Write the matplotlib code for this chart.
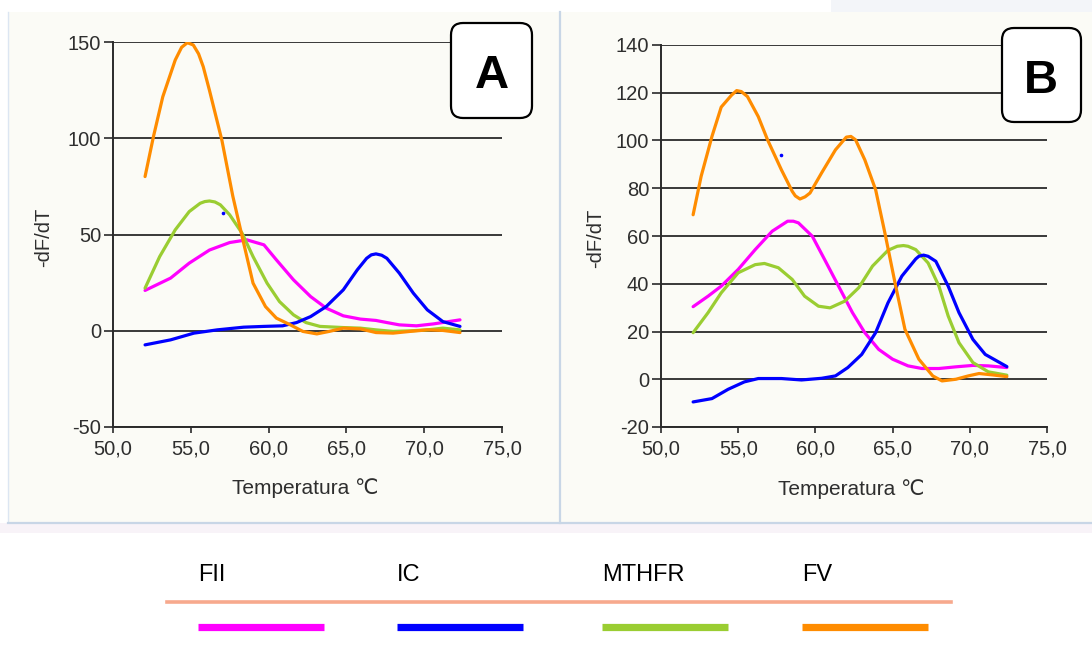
import matplotlib
matplotlib.use('Agg')
import matplotlib.pyplot as plt
from matplotlib.patches import Rectangle, FancyBboxPatch
from matplotlib.lines import Line2D
from matplotlib.ticker import FuncFormatter, MultipleLocator

plt.rcParams['font.family'] = ['Liberation Sans', 'DejaVu Sans']
plt.rcParams['axes.unicode_minus'] = False

# ---------------- data: panel A ----------------
a_fv_t = [52.06, 52.6, 53.2, 54.0, 54.41, 54.78, 55.16, 55.5, 55.8, 56.2, 57.0, 57.7, 58.4, 59.0, 59.8,
          60.5, 61.4, 62.2, 63.1, 63.9, 64.8, 65.9, 66.9, 68.0, 69.1, 70.2, 71.2, 72.3]
a_fv_v = [80.2, 101, 121.7, 140.8, 147.4, 149.8, 148.6, 144, 137.3, 125, 99, 70, 45.5, 24.8, 12.6,
          6.6, 3.1, -0.3, -1.6, -0.3, 1.4, 1.0, -0.9, -1.2, -0.3, 0.5, 0.2, -0.9]

a_mthfr_t = [52.06, 53.0, 54.0, 54.9, 55.6, 55.9, 56.2, 56.55, 56.9, 57.5, 58.3, 59.0, 59.9, 60.7, 61.6,
             62.4, 63.3, 64.8, 65.9, 66.9, 68.0, 69.1, 70.2, 71.2, 72.3]
a_mthfr_v = [22.2, 38.6, 52.5, 62, 66.3, 67.2, 67.5, 67, 65.5, 60.3, 50.7, 38.6, 24.8, 15.2, 8.3,
             4.3, 2.3, 1.7, 1.4, 0.5, -0.3, 0, 0.5, 1.4, 0.5]

a_fii_t = [52.06, 53.7, 54.9, 56.2, 57.5, 58.6, 59.7, 60.5, 61.6, 62.7, 63.7, 64.8, 65.9, 66.9, 67.6,
           68.4, 69.5, 70.6, 72.3]
a_fii_v = [21, 27.4, 35.2, 42, 45.9, 47.3, 44.7, 36.9, 26.5, 17.8, 11.8, 7.8, 6.1, 5.4, 4.3,
           3.1, 2.6, 3.6, 5.7]

a_ic_t = [52.06, 53.7, 55.2, 56.7, 58.4, 59.7, 60.9, 61.8, 62.7, 63.7, 64.8, 65.7, 66.3, 66.6, 66.9,
          67.27, 67.6, 68.4, 69.3, 70.2, 71.2, 72.3]
a_ic_v = [-7.3, -4.7, -1.2, 0.5, 1.9, 2.3, 2.6, 4.3, 7.4, 12.6, 21.3, 31.7, 37.7, 39.5, 40,
          39.3, 37.7, 30, 19.6, 10.9, 4.8, 2.3]

# ---------------- data: panel B ----------------
b_fv_t = [52.08, 52.6, 53.3, 53.9, 54.57, 54.9, 55.2, 55.6, 56.3, 56.9, 57.8, 58.5, 58.7, 59.0, 59.33,
          59.65, 60.4, 61.3, 62.0, 62.3, 62.6, 63.2, 63.9, 64.5, 65.2, 65.8, 66.7, 67.6, 68.2, 69.1,
          69.9, 70.6, 71.5, 72.4]
b_fv_v = [68.9, 85, 101.7, 114, 119, 120.9, 120.5, 118.4, 110, 100.3, 87.7, 78.7, 76.8, 75.5, 76.4,
          78, 86.4, 96.1, 101.4, 101.7, 100.3, 91.9, 79.4, 61.3, 39, 20.9, 8.4, 1.4, -0.7, 0,
          1.4, 2.4, 1.8, 1.1]

b_fii_t = [52.08, 53.05, 53.9, 55.0, 56.1, 57.2, 58.2, 58.57, 58.9, 59.8, 60.6, 61.5, 62.4, 63.2, 64.1,
           65.0, 66.0, 66.9, 68.0, 69.1, 70.2, 71.2, 72.4]
b_fii_v = [30.4, 34.8, 39, 46, 54.3, 62, 66.2, 66.2, 65.5, 59.9, 50.1, 39, 27.9, 19.5, 12.5,
           8.4, 5.6, 4.5, 4.5, 5.2, 5.8, 5.6, 4.9]

b_mthfr_t = [52.08, 53.05, 53.9, 55.0, 56.1, 56.7, 57.6, 58.5, 59.3, 60.2, 60.95, 61.9, 62.8, 63.7, 64.7,
             65.3, 65.7, 66.0, 66.5, 67.3, 68.0, 68.6, 69.3, 70.2, 71.2, 72.4]
b_mthfr_v = [19.5, 27.9, 36.2, 44.6, 48, 48.5, 46.7, 41.8, 34.8, 30.6, 29.9, 32.7, 38.3, 47.4, 54,
             55.7, 56, 55.7, 54.3, 48.7, 39, 26.5, 15.3, 7, 3.1, 1.7]

b_ic_t = [52.08, 53.3, 54.35, 55.4, 56.3, 57.8, 59.1, 60.4, 61.3, 62.1, 63.0, 63.9, 64.7, 65.6, 66.5,
          66.7, 67.0, 67.3, 67.8, 68.6, 69.3, 70.2, 71.0, 72.4]
b_ic_v = [-9.5, -8.1, -4.2, -1.1, 0.3, 0.3, -0.3, 0.4, 1.4, 4.9, 10.4, 19.5, 32, 43.2, 50.4,
          51.5, 52, 51.5, 49.4, 39, 27.9, 16.7, 10.4, 5.3]

stray_a = (57.05, 61.1)
stray_b = (57.74, 93.9)

series_names = ['FII', 'IC', 'MTHFR', 'FV']
series_colors = {'FII': '#FF00FF', 'IC': '#0000FF', 'MTHFR': '#9ACD32', 'FV': '#FF8C00'}
panel_letters = ['A', 'B']

W, H = 1092, 653
fig = plt.figure(figsize=(W / 100, H / 100), dpi=100)
fig.patch.set_facecolor('white')

# background overlay (pixel coords)
bg = fig.add_axes([0, 0, 1, 1], zorder=-5)
bg.set_xlim(0, W); bg.set_ylim(H, 0); bg.axis('off')
panel_col = '#FBFBF6'
bg.add_patch(Rectangle((831, 0), W - 831, 12, facecolor='#F3F5F9', edgecolor='none'))
bg.add_patch(Rectangle((8, 12), 551, 510, facecolor=panel_col, edgecolor='none'))
bg.add_patch(Rectangle((561, 12), W - 561, 510, facecolor=panel_col, edgecolor='none'))
bg.add_patch(Rectangle((0, 523), W, 10, facecolor='#F8F3F8', edgecolor='none'))
bg.add_line(Line2D([8, 8], [12, 522], color='#DCE6F2', lw=1.0))
bg.add_line(Line2D([560, 560], [12, 523], color='#C8D6E6', lw=1.6))
bg.add_line(Line2D([8, W], [522.5, 522.5], color='#C8D6E6', lw=1.6))

fmt = FuncFormatter(lambda v, p: f"{v:.1f}".replace('.', ','))
tick_col = '#2e2e2e'
grid_col = '#383838'


def make_axes(rect_px, ylim, ystep, curves, stray, xlab_xy, ylab_xy):
    x0, x1, y0, y1 = rect_px
    ax = fig.add_axes([x0 / W, 1 - y1 / H, (x1 - x0) / W, (y1 - y0) / H])
    ax.set_facecolor('none')
    ax.set_xlim(50, 75)
    ax.set_ylim(*ylim)
    ax.xaxis.set_major_locator(MultipleLocator(5))
    ax.yaxis.set_major_locator(MultipleLocator(ystep))
    ax.xaxis.set_major_formatter(fmt)
    for s in ['top', 'right']:
        ax.spines[s].set_visible(False)
    for s in ['left', 'bottom']:
        ax.spines[s].set_color('#2a2a2a')
        ax.spines[s].set_linewidth(1.4)
    ax.yaxis.grid(True, color=grid_col, lw=1.4)
    ax.set_axisbelow(True)
    ax.tick_params(axis='y', length=6.5, width=1.2, color='#2a2a2a', pad=2,
                   labelsize=14.5, labelcolor=tick_col)
    ax.tick_params(axis='x', length=4, width=1.2, color='#2a2a2a', pad=5,
                   labelsize=14.5, labelcolor=tick_col)
    for name, (t, v), z in curves:
        ax.plot(t, v, color=series_colors[name], lw=2.3, zorder=z, solid_capstyle='round',
                solid_joinstyle='round')
    ax.plot([stray[0]], [stray[1]], 'o', color='#0000FF', ms=1.6, zorder=6)
    ax.set_xlabel('Temperatura ℃', fontsize=15, color=tick_col, va='center')
    ax.xaxis.set_label_coords((xlab_xy[0] - x0) / (x1 - x0), (y1 - xlab_xy[1]) / (y1 - y0))
    ax.set_ylabel('-dF/dT', fontsize=14.5, color=tick_col, va='center')
    ax.yaxis.set_label_coords((ylab_xy[0] - x0) / (x1 - x0), (y1 - ylab_xy[1]) / (y1 - y0))
    return ax


axA = make_axes((113, 502, 42.3, 427), (-50, 150), 50,
                [('FII', (a_fii_t, a_fii_v), 3), ('MTHFR', (a_mthfr_t, a_mthfr_v), 3.1),
                 ('IC', (a_ic_t, a_ic_v), 3.2), ('FV', (a_fv_t, a_fv_v), 3.3)],
                stray_a, (305, 488), (44, 237))
axB = make_axes((661, 1047, 45, 427), (-20, 140), 20,
                [('FII', (b_fii_t, b_fii_v), 3), ('MTHFR', (b_mthfr_t, b_mthfr_v), 3.1),
                 ('IC', (b_ic_t, b_ic_v), 3.2), ('FV', (b_fv_t, b_fv_v), 3.3)],
                stray_b, (851, 489), (596, 238))

# foreground overlay (pixel coords): panel letters and legend
fg = fig.add_axes([0, 0, 1, 1], zorder=5)
fg.set_xlim(0, W); fg.set_ylim(H, 0); fg.axis('off')
fg.patch.set_alpha(0)

for letter, (bx, by, bw, bh), (tx, ty) in zip(panel_letters,
                                             [(451, 23, 81, 95), (1002, 28, 79, 94)],
                                             [(491.5, 88), (1041, 93)]):
    fg.add_patch(FancyBboxPatch((bx, by), bw, bh, boxstyle='round,pad=0,rounding_size=12',
                                facecolor='white', edgecolor='black', lw=1.6))
    fg.text(tx, ty, letter, ha='center', va='baseline', fontsize=34, fontweight='bold',
            color='black')

# legend
fg.add_line(Line2D([167, 951], [602, 602], color='#F7A98D', lw=2.6))
leg_x = [198, 397, 602, 802]
for name, lx in zip(series_names, leg_x):
    fg.text(lx, 575, name, ha='left', va='center', fontsize=17, color='black')
    fg.add_line(Line2D([lx, lx + 126], [627, 627], color=series_colors[name], lw=5.2,
                       solid_capstyle='butt'))

fig.savefig('out.png', dpi=100, facecolor='white')
